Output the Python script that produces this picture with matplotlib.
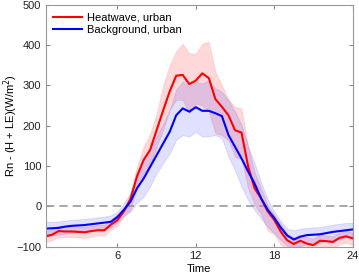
import numpy as np
import matplotlib
matplotlib.use('Agg')
import matplotlib.pyplot as plt

plt.rcParams['font.family'] = ['Liberation Sans', 'DejaVu Sans']

# half-hourly time steps
time = np.arange(0.5, 24.01, 0.5)

heat = [-74, -70, -61, -62, -62, -63, -64, -61, -59, -59, -45, -34, -12, 18, 75, 115,
        140, 189, 238, 285, 324, 326, 303, 312, 330, 318, 266, 247, 226, 189, 183, 100,
        45, 20, -12, -33, -62, -84, -93, -85, -92, -96, -85, -86, -88, -78, -74, -79]
heat_hi = [-62, -55, -48, -48, -48, -49, -50, -48, -46, -45, -32, -20, -3, 33, 100, 148,
           180, 231, 300, 350, 385, 404, 379, 379, 404, 408, 334, 301, 264, 247, 243, 150,
           85, 45, 3, -20, -44, -68, -76, -70, -76, -80, -70, -72, -74, -64, -60, -65]
heat_lo = [-88, -84, -75, -76, -76, -77, -78, -75, -72, -72, -58, -48, -22, -8, 50, 82,
           100, 148, 190, 239, 264, 264, 231, 255, 250, 235, 181, 177, 164, 123, 118, 45,
           5, -20, -60, -68, -95, -105, -110, -102, -108, -112, -102, -102, -104, -94, -90, -95]

back = [-55, -54, -53, -50, -48, -47, -46, -44, -42, -40, -38, -26, -8, 12, 45, 69,
        98, 127, 156, 185, 226, 243, 235, 246, 237, 237, 231, 224, 177, 148, 119, 87,
        57, 20, -8, -28, -52, -72, -82, -75, -71, -70, -69, -66, -63, -61, -59, -57]
back_hi = [-38, -38, -37, -35, -33, -32, -31, -29, -27, -25, -22, -13, 8, 35, 75, 115,
           145, 173, 205, 239, 290, 309, 297, 309, 305, 313, 293, 284, 264, 235, 202, 150,
           107, 60, 18, -12, -36, -55, -59, -55, -53, -52, -51, -48, -45, -43, -41, -40]
back_lo = [-75, -72, -70, -67, -65, -63, -62, -60, -58, -56, -52, -38, -25, -12, 10, 24,
           50, 82, 108, 131, 165, 177, 173, 185, 173, 174, 177, 169, 123, 90, 49, 16,
           -9, -30, -50, -67, -83, -98, -104, -98, -93, -91, -89, -86, -82, -80, -77, -75]

fig = plt.figure(figsize=(3.59, 2.77), dpi=100)
ax = fig.add_axes([0.127, 0.109, 0.855, 0.874])

ax.fill_between(time, heat_lo, heat_hi, facecolor=(1, 0, 0, 0.15), edgecolor=(1, 0, 0, 0.12), lw=0.6)
ax.fill_between(time, back_lo, back_hi, facecolor=(0, 0, 1, 0.12), edgecolor=(0, 0, 1, 0.12), lw=0.6)
ax.axhline(0, color='#999999', ls=(0, (5, 3)), lw=1.2)
ax.plot(time, heat, color='#ff0000', lw=1.5, label='Heatwave, urban')
ax.plot(time, back, color='#0000ff', lw=1.5, label='Background, urban')

ax.set_xlim(0.5, 24)
ax.set_ylim(-100, 500)
ax.set_xticks([6, 12, 18, 24])
ax.set_yticks(range(-100, 501, 100))
ax.tick_params(direction='in', top=True, right=True, labelsize=8, length=3,
               color='#888888', labelcolor='#222222', pad=3)
for s in ax.spines.values():
    s.set_color('#999999')
    s.set_linewidth(0.8)

ax.set_xlabel('Time', fontsize=8, labelpad=2)
ax.set_ylabel(r'Rn - (H + LE)(W/m$^2$)', fontsize=8)
ax.yaxis.set_label_coords(-0.085, 0.5)
ax.legend(loc='upper left', frameon=False, fontsize=8, handlelength=2.6,
          borderaxespad=0.3, handletextpad=0.4, labelspacing=0.2)

fig.savefig('out.png', dpi=100)
